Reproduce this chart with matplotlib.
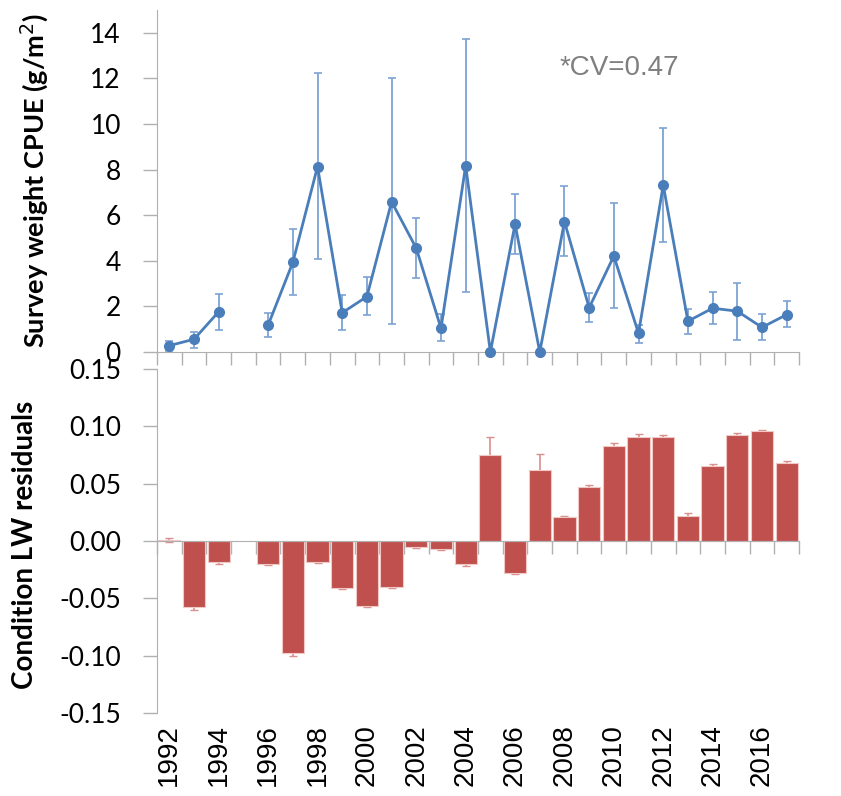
import numpy as np
import matplotlib
matplotlib.use('Agg')
import matplotlib.pyplot as plt

nan = np.nan

# 조사 연도 (1995년은 자료 없음)
years = list(range(1992, 2018))

# 위 그래프: survey weight CPUE 와 오차 범위 (아래/위 끝)
cpue = [0.28, 0.56, 1.77, nan, 1.18, 3.93, 8.13, 1.72, 2.43, 6.59, 4.55, 1.04, 8.17,
        0.0, 5.61, 0.0, 5.72, 1.94, 4.21, 0.82, 7.32, 1.35, 1.92, 1.79, 1.08, 1.64]
cpue_hi = [0.50, 0.86, 2.56, nan, 1.72, 5.39, 12.22, 2.50, 3.28, 12.02, 5.86, 1.65, 13.73,
           0.0, 6.94, 0.0, 7.27, 2.60, 6.54, 1.18, 9.82, 1.87, 2.62, 3.04, 1.67, 2.22]
cpue_lo = [0.06, 0.19, 0.96, nan, 0.64, 2.50, 4.06, 0.95, 1.62, 1.23, 3.23, 0.47, 2.65,
           0.0, 4.28, 0.0, 4.20, 1.30, 1.93, 0.38, 4.81, 0.80, 1.23, 0.54, 0.53, 1.08]
cv_text = '*CV=0.47'

# 아래 그래프: condition LW residuals 와 오차
resid = [0.001, -0.058, -0.018, nan, -0.020, -0.098, -0.018, -0.041, -0.057, -0.040,
         -0.005, -0.007, -0.020, 0.075, -0.028, 0.062, 0.021, 0.047, 0.083, 0.091,
         0.091, 0.022, 0.065, 0.092, 0.096, 0.068]
resid_err = [0.002, 0.002, 0.002, nan, 0.001, 0.002, 0.001, 0.001, 0.001, 0.001,
             0.001, 0.001, 0.002, 0.016, 0.001, 0.014, 0.001, 0.002, 0.002, 0.002,
             0.001, 0.002, 0.002, 0.002, 0.001, 0.002]

top_ticks = [0, 2, 4, 6, 8, 10, 12, 14]
bot_ticks = [-0.15, -0.10, -0.05, 0.00, 0.05, 0.10, 0.15]

BLUE = '#4A7EBB'
BLUE_ERR = '#7DA3D4'
RED = '#C0504D'
RED_ERR = '#D98F8D'
GRAY = '#B0B0B0'
TICK_FONT = 'Lato'
LABEL_FONT = 'Lato'

x = np.arange(len(years))
cpue = np.array(cpue)
yerr = np.array([cpue - np.array(cpue_lo), np.array(cpue_hi) - cpue])

fig = plt.figure(figsize=(8.41, 7.96), dpi=100)
ax1 = fig.add_axes([0.1867, 0.5578, 0.7634, 0.4296])
ax2 = fig.add_axes([0.1867, 0.1043, 0.7634, 0.4322])

# 스파인 위치는 눈금을 다시 만들기 때문에 먼저 설정
ax2.spines['top'].set_position(('data', 0))

# 위: 선 + 오차막대
ax1.errorbar(x, cpue, yerr=yerr, fmt='none', ecolor=BLUE_ERR, elinewidth=1.3,
             capsize=3, capthick=1.2, zorder=2)
ax1.plot(x, cpue, color=BLUE, lw=2, marker='o', ms=7, zorder=3, clip_on=False)
ax1.set_xlim(-0.5, len(years) - 0.5)
ax1.set_ylim(0, 15)
ax1.set_yticks(top_ticks)
ax1.set_yticklabels([str(t) for t in top_ticks])
ax1.set_xticks([])
ax1.set_xticks(np.arange(-0.5, len(years)), minor=True)
ax1.tick_params(axis='x', which='minor', direction='out', length=9, color=GRAY,
                width=1, labelbottom=False)
ax1.text(0.72, 0.83, cv_text, transform=ax1.transAxes, ha='center', va='center',
         fontsize=20, color='#7F7F7F', family='Liberation Sans')

# 아래: 막대 + 오차막대
ax2.errorbar(x, resid, yerr=resid_err, fmt='none', ecolor=RED_ERR, elinewidth=1.2,
             capsize=3, capthick=1, zorder=2)
ax2.bar(x, resid, width=0.9, color=RED, edgecolor='#F0C8C6', linewidth=0.8, zorder=3)
ax2.set_xlim(-0.5, len(years) - 0.5)
ax2.set_ylim(-0.15, 0.15)
ax2.set_yticks(bot_ticks)
ax2.set_yticklabels(['%.2f' % t if t >= 0 else '-%.2f' % abs(t) for t in bot_ticks])
ax2.set_xticks(x[::2])
ax2.set_xticklabels([str(y) for y in years[::2]], rotation=90,
                    fontsize=20, family='Liberation Sans')
ax2.tick_params(axis='x', which='major', length=0, pad=8)
# 0 선에 붙는 구간 눈금
ax2.spines['top'].set_color(GRAY)
ax2.spines['top'].set_zorder(4)
ax2.set_xticks(np.arange(-0.5, len(years)), minor=True)
ax2.tick_params(axis='x', which='minor', top=True, bottom=False, direction='in',
                length=9, color=GRAY, width=1)

for ax in (ax1, ax2):
    ax.spines['right'].set_visible(False)
    ax.spines['left'].set_color(GRAY)
    ax.tick_params(axis='y', direction='out', length=10, color=GRAY, width=1, pad=16,
                   labelsize=19)
    for lab in ax.get_yticklabels():
        lab.set_family(TICK_FONT)
ax1.spines['top'].set_visible(False)
ax1.spines['bottom'].set_color(GRAY)
ax2.spines['bottom'].set_visible(False)

fig.text(34 / 841, 1 - 180 / 796, 'Survey weight CPUE (g/m$^2$)', rotation=90,
         ha='center', va='center', fontsize=19.5, fontweight='bold', family=LABEL_FONT)
fig.text(25 / 841, 1 - 545 / 796, 'Condition LW residuals', rotation=90,
         ha='center', va='center', fontsize=20, fontweight='bold', family=LABEL_FONT)

fig.savefig('out.png', dpi=100)
